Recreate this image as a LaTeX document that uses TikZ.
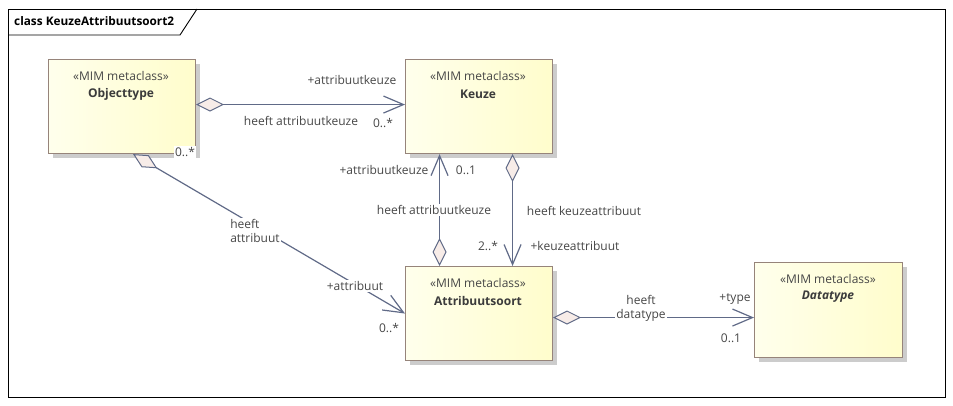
\documentclass[tikz,border=0pt]{standalone}
\usepackage{fontspec}
\setmainfont{Open Sans}
\usetikzlibrary{arrows.meta,shadows}
\definecolor{linec}{RGB}{96,106,135}
\definecolor{boxline}{RGB}{150,132,122}
\definecolor{fillL}{RGB}{255,255,236}
\definecolor{fillR}{RGB}{255,253,204}
\definecolor{diafill}{RGB}{247,236,232}
\definecolor{txt}{RGB}{70,70,70}
\tikzset{
  umlbox/.style={draw=boxline, line width=1.1pt, left color=fillL, right color=fillR,
    minimum width=147pt, minimum height=94pt, anchor=north west, inner sep=0pt,
    drop shadow={shadow xshift=4pt, shadow yshift=-4pt, fill=black!20, opacity=1}},
  stereo/.style={text=txt, font=\fontsize{12}{13}\selectfont, inner sep=0pt},
  cname/.style={text=txt!85!black, font=\fontsize{12}{13}\selectfont\bfseries, inner sep=0pt},
  lbl/.style={text=txt, font=\fontsize{12}{14}\selectfont, inner sep=1pt},
  assoc/.style={draw=linec, line width=1.2pt,
    {Diamond[length=28pt,width=14pt,fill=diafill,line width=1pt]}-{Straight Barb[length=20pt,width=17pt,line width=1.2pt]}},
}
\begin{document}
\begin{tikzpicture}[x=1pt,y=-1pt]
\useasboundingbox (0,0) rectangle (953,405);
% frame
\draw[line width=0.9pt] (8,9) rectangle (945,397);
\draw[line width=0.9pt] (8,35) -- (180,35) -- (197,9);
\node[anchor=west, inner sep=0pt, font=\fontsize{11.8}{13}\selectfont\bfseries] (title) at (14,21) {class KeuzeAttribuutsoort2};
% boxes
\node[umlbox] (obj) at (48,59) {};
\node[umlbox] (keu) at (405,59) {};
\node[umlbox] (att) at (405,266) {};
\node[umlbox, minimum width=148pt, minimum height=95pt] (dat) at (754,262) {};
% box texts
\node[stereo] (objs) at (121,76) {«MIM metaclass»};
\node[cname] (objn) at (121,94) {Objecttype};
\node[stereo] (keus) at (478,76) {«MIM metaclass»};
\node[cname] (keun) at (478,94) {Keuze};
\node[stereo] (atts) at (478,283) {«MIM metaclass»};
\node[cname] (attn) at (478,301) {Attribuutsoort};
\node[stereo] (dats) at (828,279) {«MIM metaclass»};
\node[cname, font=\fontsize{12}{13}\selectfont\bfseries\itshape] (datn) at (828,297) {Datatype};
% connectors
\draw[assoc] ([yshift=2]obj.east) -- ([yshift=2]obj.east -| keu.west);
\draw[assoc] ([xshift=11]obj.south) -- (att.west);
\draw[assoc] ([xshift=-39.5]att.north) -- ([xshift=-39.5]keu.south);
\draw[assoc] ([xshift=33.5]keu.south) -- ([xshift=33.5]att.north);
\draw[assoc] ([yshift=-4]att.east) -- ([yshift=-4]att.east -| dat.west);
% labels
\node[lbl] (l1) at (352,80) {+attribuutkeuze};
\node[lbl] (l2) at (301,121) {heeft attribuutkeuze};
\node[lbl] (l3) at (383,123) {0..*};
\node[lbl, fill=white] (l4) at (185,152) {0..*};
\node[lbl, fill=white, align=left, inner sep=1pt] (l5) at (255,231) {heeft\\attribuut};
\node[lbl, fill=white] (l6) at (355,286) {+attribuut};
\node[lbl] (l7) at (389,328) {0..*};
\node[lbl] (l8) at (384,170) {+attribuutkeuze};
\node[lbl] (l9) at (466,170) {0..1};
\node[lbl, fill=white] (l10) at (434,210) {heeft attribuutkeuze};
\node[lbl] (l11) at (584,211) {heeft keuzeattribuut};
\node[lbl] (l12) at (488,246) {2..*};
\node[lbl] (l13) at (575,246) {+keuzeattribuut};
\node[lbl, fill=white, align=center, inner sep=1pt] (l14) at (641,308) {heeft\\datatype};
\node[lbl] (l15) at (735,299) {+type};
\node[lbl] (l16) at (731,338) {0..1};
\end{tikzpicture}
\end{document}
